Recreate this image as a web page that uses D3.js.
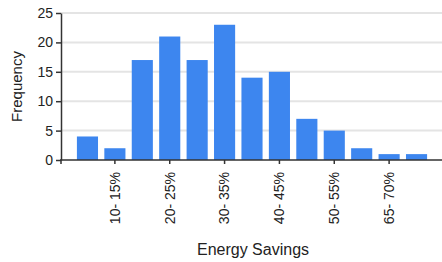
<!DOCTYPE html>
<html>
<head>
<meta charset="utf-8">
<script src="https://cdn.jsdelivr.net/npm/d3@7"></script>
<style>
	body { margin: 0; background: #fff; }
	text { font-family: Arial, "Liberation Sans", sans-serif; fill: #222; }
</style>
</head>
<body>
<div id="chart"></div>
<script>
const bins = ['5- 10%', '10- 15%', '15- 20%', '20- 25%', '25- 30%', '30- 35%', '35- 40%', '40- 45%', '45- 50%', '50- 55%', '55- 60%', '65- 70%', '70- 75%'];
const counts = [4, 2, 17, 21, 17, 23, 14, 15, 7, 5, 2, 1, 1];
const shownLabels = ['10- 15%', '20- 25%', '30- 35%', '40- 45%', '50- 55%', '65- 70%'];
const yTicks = [0, 5, 10, 15, 20, 25];

const width = 442;
const height = 262;
const margin = {top: 13, right: 0, bottom: 102, left: 61};

const svg = d3.select('#chart')
	.append('svg')
	.attr('width', width)
	.attr('height', height);

const x = d3.scaleBand()
	.domain(bins)
	.range([margin.left, width + 1])
	.paddingInner(0.23)
	.paddingOuter(0.58);

const y = d3.scaleLinear()
	.domain([0, 25])
	.range([height - margin.bottom, margin.top]);

// grid
svg.append('g')
	.selectAll('line')
	.data(yTicks.slice(1))
	.join('line')
	.attr('x1', margin.left)
	.attr('x2', width)
	.attr('y1', d => y(d))
	.attr('y2', d => y(d))
	.attr('stroke', '#e4e4e4')
	.attr('stroke-width', 2);

svg.append('g')
	.selectAll('rect')
	.data(counts)
	.join('rect')
	.attr('x', (d, i) => x(bins[i]))
	.attr('y', d => y(d))
	.attr('width', x.bandwidth())
	.attr('height', d => y(0) - y(d))
	.attr('fill', '#3d86ef');

const yAxis = d3.axisLeft(y)
	.tickValues(yTicks)
	.tickSize(5)
	.tickSizeOuter(0)
	.tickPadding(3);

svg.append('g')
	.attr('transform', `translate(${margin.left},0)`)
	.call(yAxis)
	.call(g => g.selectAll('.tick text').style('font-size', '14px').attr('fill', '#222'))
	.call(g => g.selectAll('line, path').attr('stroke', '#333').attr('stroke-width', 1.5));

const xAxis = d3.axisBottom(x)
	.tickValues(shownLabels)
	.tickSize(4)
	.tickSizeOuter(0);

svg.append('g')
	.attr('transform', `translate(0,${y(0)})`)
	.call(xAxis)
	.call(g => g.select('.domain').attr('d', `M${margin.left - 1},0H${width}M${margin.left},0V4`))
	.call(g => g.selectAll('line, path').attr('stroke', '#333').attr('stroke-width', 1.5))
	.call(g => g.selectAll('.tick text')
		.style('font-size', '14px')
		.attr('fill', '#222')
		.attr('transform', 'rotate(-90)')
		.attr('text-anchor', 'end')
		.attr('x', -12)
		.attr('y', 0)
		.attr('dy', '0.35em'));

svg.append('text')
	.attr('x', 253)
	.attr('y', 255)
	.attr('text-anchor', 'middle')
	.style('font-size', '16px')
	.text('Energy Savings');

svg.append('text')
	.attr('transform', `translate(22,${(y(0) + y(25)) / 2}) rotate(-90)`)
	.attr('text-anchor', 'middle')
	.style('font-size', '15px')
	.text('Frequency');
</script>
</body>
</html>
